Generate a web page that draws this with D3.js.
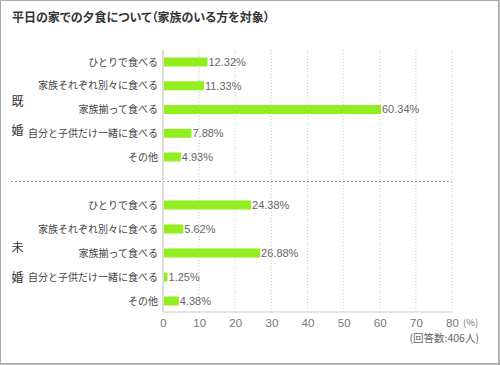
<!DOCTYPE html>
<html><head><meta charset="utf-8">
<script src="https://cdn.jsdelivr.net/npm/d3@7/dist/d3.min.js"></script>
<style>body{margin:0;background:#fff}svg{display:block;font-family:"Noto Sans CJK JP",sans-serif}
.jp{font-feature-settings:"palt" 1}</style>
</head><body>
<svg id="c" width="500" height="365"></svg>
<script>
const title = "平日の家での夕食について（家族のいる方を対象）";
const categories = ["ひとりで食べる","家族それぞれ別々に食べる","家族揃って食べる","自分と子供だけ一緒に食べる","その他"];
const groups = ["既婚","未婚"];
const marriedValues = [12.32, 11.33, 60.34, 7.88, 4.93];
const unmarriedValues = [24.38, 5.62, 26.88, 1.25, 4.38];
const ticks = [0,10,20,30,40,50,60,70,80];
const note = "(回答数:406人)";

const svg = d3.select("#c");
svg.append("rect").attr("x",0.5).attr("y",0.5).attr("width",498).attr("height",363)
  .attr("fill","#fff").attr("stroke","#aaa").attr("stroke-width",1);
svg.append("line").attr("x1",499).attr("x2",499).attr("y1",0).attr("y2",365).attr("stroke","#aaa").attr("stroke-width",1.5);
svg.append("line").attr("x1",0).attr("x2",500).attr("y1",364).attr("y2",364).attr("stroke","#aaa").attr("stroke-width",1.5);

svg.append("text").attr("class","jp").attr("x",12).attr("y",22).attr("font-size",12).attr("font-weight","bold").attr("fill","#333").text(title);

const x = d3.scaleLinear().domain([0,80]).range([163,452]);
const yTop = 50, yBot = 312;

svg.append("g").selectAll("line").data(ticks.slice(1)).join("line")
  .attr("x1",d=>x(d)).attr("x2",d=>x(d)).attr("y1",yTop).attr("y2",yBot)
  .attr("stroke","#ccc").attr("stroke-dasharray","1,2");

svg.append("line").attr("x1",11).attr("x2",452).attr("y1",181.5).attr("y2",181.5)
  .attr("stroke","#999").attr("stroke-dasharray","2,2");

const ranges = [[62,157],[205,301]];
const data = [marriedValues, unmarriedValues];
const barH = 9;
const labelOff = [[-7.5,21.5],[-5,25]];

data.forEach((vals,gi)=>{
  const y = d3.scalePoint().domain(categories).range(ranges[gi]);
  const g = svg.append("g");
  const rows = categories.map((c,i)=>({c, v:vals[i]}));
  g.selectAll("rect").data(rows).join("rect")
    .attr("x",x(0)).attr("y",d=>y(d.c)-barH/2).attr("width",d=>x(d.v)-x(0)).attr("height",barH)
    .attr("fill","#92ee1e");
  g.selectAll("text.cat").data(rows).join("text").attr("class","cat")
    .attr("x",158).attr("y",d=>y(d.c)).attr("dy","0.35em").attr("text-anchor","end")
    .attr("font-size",10).attr("fill","#444").text(d=>d.c);
  g.selectAll("text.val").data(rows).join("text").attr("class","val")
    .attr("x",d=>x(d.v)+1).attr("y",d=>y(d.c)).attr("dy","0.35em")
    .attr("font-size",11).attr("fill","#666").attr("font-family","Liberation Sans, Arial, sans-serif").text(d=>d.v.toFixed(2)+"%");
  const mid = (ranges[gi][0]+ranges[gi][1])/2;
  groups[gi].split("").forEach((ch,k)=>{
    g.append("text").attr("x",17.5).attr("y",mid + labelOff[gi][k]).attr("dy","0.35em")
      .attr("text-anchor","middle").attr("font-size",12).attr("fill","#333").text(ch);
  });
});

svg.append("line").attr("x1",x(0)).attr("x2",x(0)).attr("y1",yTop).attr("y2",yBot).attr("stroke","#ddd").attr("stroke-width",2);
svg.append("line").attr("x1",x(0)).attr("x2",x(80)).attr("y1",yBot).attr("y2",yBot).attr("stroke","#ddd").attr("stroke-width",1.5);

const axis = d3.axisBottom(x).tickValues(ticks).tickSize(0).tickPadding(0);
const ag = svg.append("g").attr("transform",`translate(0,${yBot+11})`).call(axis);
ag.select(".domain").remove();
ag.selectAll("text").attr("font-size",11.5).attr("fill","#777").attr("dy","0.35em").attr("y",0)
  .attr("font-family","Liberation Sans, Arial, sans-serif");

svg.append("text").attr("x",463).attr("y",yBot+11).attr("dy","0.35em").attr("font-size",9.5).attr("fill","#777").text("(%)");
svg.append("text").attr("class","jp").attr("x",479).attr("y",338).attr("dy","0.35em").attr("text-anchor","end").attr("font-size",10.5).attr("fill","#666").text(note);
</script>
</body></html>
